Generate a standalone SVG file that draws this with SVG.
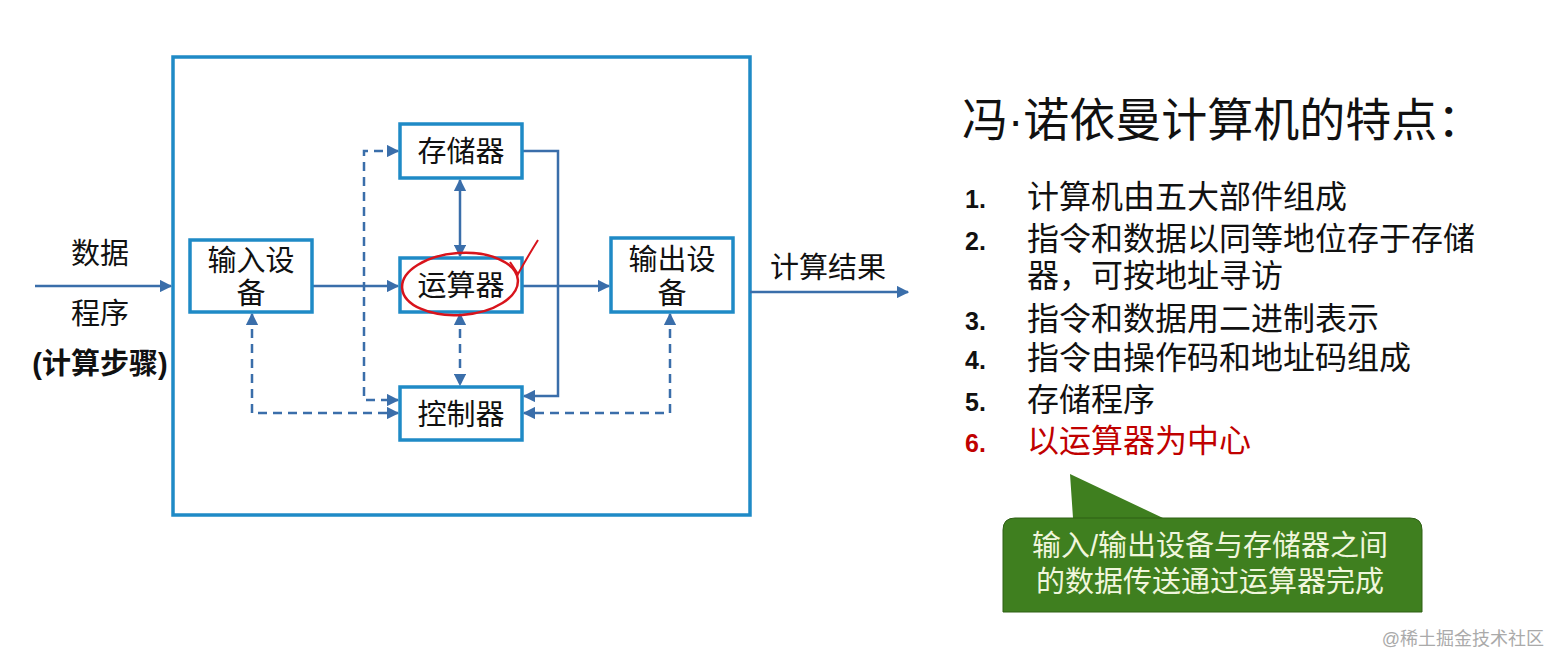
<svg xmlns="http://www.w3.org/2000/svg" width="1554" height="661" viewBox="0 0 1554 661">
<style>
.box{fill:#fff;stroke:#1f8ac6;stroke-width:3.5}
.t{font-family:"Liberation Sans","Noto Sans CJK SC",sans-serif;fill:#111}
.n{font-size:29px;text-anchor:middle}
.c{fill:none;stroke:#3a6eaa;stroke-width:2.5}
.d{stroke-dasharray:9 6}
.li{font-size:32px}
</style>
<defs>
<marker id="a" viewBox="0 0 10 10" refX="9" refY="5" markerWidth="5" markerHeight="5" orient="auto-start-reverse"><path d="M0,0L10,5L0,10z" fill="#3a6eaa"/></marker>
</defs>
<rect width="1554" height="661" fill="#fff"/>
<rect x="173" y="57" width="577" height="458" fill="none" stroke="#1f8ac6" stroke-width="3.5"/>
<g id="connectors">
<path class="c" d="M35,286H171" marker-end="url(#a)"/>
<path class="c" d="M312,286H398" marker-end="url(#a)"/>
<path class="c" d="M522,286H609" marker-end="url(#a)"/>
<path class="c" d="M750,292H908" marker-end="url(#a)"/>
<path class="c" d="M460,180V256" marker-start="url(#a)" marker-end="url(#a)"/>
<path class="c d" d="M460,314V385" marker-start="url(#a)" marker-end="url(#a)"/>
<path class="c" d="M522,151H558V396H524" marker-end="url(#a)"/>
<path class="c d" d="M398,151H364V400H398" marker-start="url(#a)" marker-end="url(#a)"/>
<path class="c d" d="M252,314V413H398" marker-start="url(#a)" marker-end="url(#a)"/>
<path class="c d" d="M670,314V413H524" marker-start="url(#a)" marker-end="url(#a)"/>
</g>
<g id="mem"><rect class="box" x="400" y="124" width="122" height="54"/><text class="t n" x="461" y="162">存储器</text></g>
<g id="alu"><rect class="box" x="400" y="258" width="122" height="54"/><text class="t n" x="461" y="296">运算器</text></g>
<g id="ctl"><rect class="box" x="400" y="387" width="122" height="53"/><text class="t n" x="461" y="425">控制器</text></g>
<g id="in"><rect class="box" x="190" y="240" width="122" height="72"/><text class="t n" x="251" y="271">输入设</text><text class="t n" x="251" y="304">备</text></g>
<g id="out"><rect class="box" x="611" y="238" width="122" height="74"/><text class="t n" x="672" y="270">输出设</text><text class="t n" x="672" y="304">备</text></g>
<ellipse cx="460" cy="284" rx="58" ry="31" fill="none" stroke="#d8141c" stroke-width="2.5" transform="rotate(-4 460 284)"/>
<path d="M510,262Q514,268 518,274Q528,256 538,240" fill="none" stroke="#d8141c" stroke-width="2"/>
<g class="t n">
<text x="100" y="264">数据</text>
<text x="100" y="324">程序</text>
<text x="100" y="374" font-weight="bold">(计算步骤)</text>
<text x="828" y="278">计算结果</text>
</g>
<text class="t" x="962" y="136" font-size="46">冯·诺依曼计算机的特点：</text>
<g class="t li">
<text x="965" y="208" font-weight="bold" font-size="25">1.</text><text x="1027" y="208">计算机由五大部件组成</text>
<text x="965" y="250" font-weight="bold" font-size="25">2.</text><text x="1027" y="250">指令和数据以同等地位存于存储</text>
<text x="1027" y="287">器，可按地址寻访</text>
<text x="965" y="330" font-weight="bold" font-size="25">3.</text><text x="1027" y="330">指令和数据用二进制表示</text>
<text x="965" y="369" font-weight="bold" font-size="25">4.</text><text x="1027" y="369">指令由操作码和地址码组成</text>
<text x="965" y="411" font-weight="bold" font-size="25">5.</text><text x="1027" y="411">存储程序</text>
<text x="965" y="452" font-weight="bold" font-size="25" fill="#c00000">6.</text><text x="1027" y="452" fill="#c00000">以运算器为中心</text>
</g>
<g id="callout">
<path d="M1015,518H1163L1070,474L1073,518Z" fill="#3f7f1f"/>
<path d="M1003,612V530Q1003,518 1015,518H1410Q1422,518 1422,530V612Z" fill="#3f7f1f" stroke="#2f6015" stroke-width="1"/>
<text class="t" x="1210" y="556" font-size="29" text-anchor="middle" style="fill:#f0f6dc">输入/输出设备与存储器之间</text>
<text class="t" x="1210" y="592" font-size="29" text-anchor="middle" style="fill:#f0f6dc">的数据传送通过运算器完成</text>
</g>
<text class="t" x="1544" y="645" font-size="18" text-anchor="end" style="fill:#aaa">@稀土掘金技术社区</text>
</svg>
